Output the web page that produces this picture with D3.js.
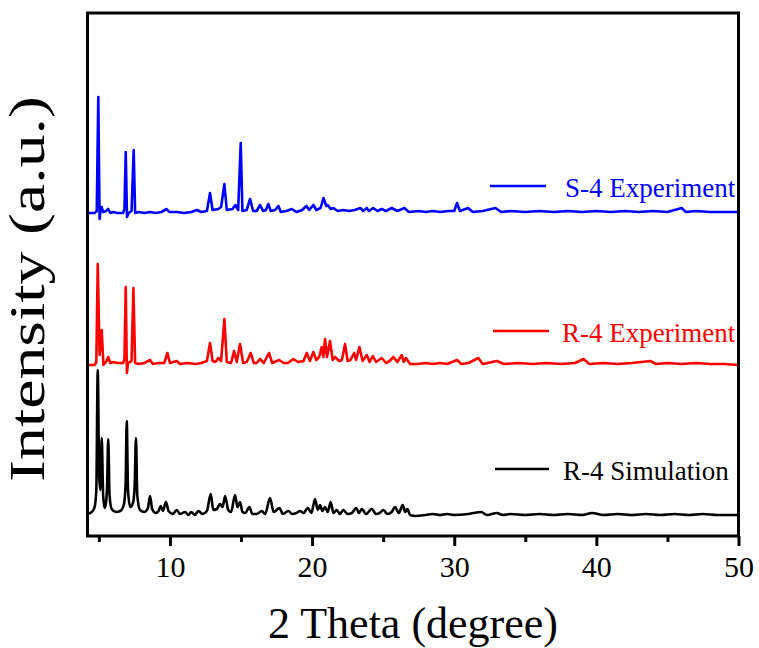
<!DOCTYPE html>
<html>
<head>
<meta charset="utf-8">
<script src="https://cdn.jsdelivr.net/npm/d3@7"></script>
<style>
  html, body { margin: 0; padding: 0; background: #fff; }
  svg { display: block; }
  text { font-family: "Liberation Serif", "Times New Roman", serif; }
</style>
</head>
<body>
<svg id="chart" width="759" height="648"></svg>
<script>
// ---------------- DATA ----------------
const seriesNames = ["R-4 Simulation", "R-4 Experiment", "S-4 Experiment"];
const seriesColors = ["#000000", "#ff0000", "#0000ff"];
const seriesOffsets = [0, 150, 302];   // vertical stacking offset (a.u.)

const majorTicks = [10, 20, 30, 40, 50];
const minorTicks = [5, 15, 25, 35, 45];
const xDomain = [4.2, 50];

// R-4 Simulation (black)
const simTheta = [4.2,4.5,4.7,4.82,4.92,5.02,5.1,5.2,5.3,5.4,5.5,5.58,5.66,5.75,5.9,6.2,6.5,6.75,6.88,6.96,7.05,7.2,7.4,7.52,7.61,7.7,7.9,8.2,8.45,8.6,8.75,9.0,9.2,9.35,9.5,9.72,9.9,10.2,10.48,10.7,11.06,11.3,11.5,11.75,12.0,12.3,12.6,12.87,13.05,13.3,13.52,13.7,13.88,14.1,14.3,14.58,14.75,14.93,15.1,15.3,15.59,15.8,16.1,16.46,16.7,17.04,17.3,17.7,17.95,18.33,18.6,18.9,19.15,19.4,19.7,19.95,20.21,20.4,20.56,20.72,20.91,21.1,21.31,21.5,21.74,21.95,22.2,22.5,22.8,23.1,23.3,23.5,23.8,24.2,24.5,24.75,25.02,25.3,25.6,25.84,26.1,26.38,26.55,26.7,26.9,27.3,28.0,28.5,29.0,29.5,30.0,31.0,31.9,32.3,33.0,33.4,34.0,35.0,36.0,37.0,38.0,39.0,39.7,40.5,41.5,42.5,43.5,44.5,45.5,46.5,47.5,48.5,50.0];
const simInt   = [1,3,8,25,145,40,25,77,20,7,12,30,76,20,6,3,4,10,30,94,25,8,12,30,77,20,5,3,7,19,6,2,4,9,4,13,4,1,5,1,3,0,3,0,4,1,4,21,5,6,11,8,19,5,3,20,8,13,3,2,8,1,1,4,1,17,3,7,1,4,1,2,4,2,7,2,16,5,10,4,8,3,13,2,5,1,5,1,2,7,2,6,1,6,1,2,5,1,3,8,2,10,3,6,0,-1,0,1,0,1,0,1,3,0,2,0,1,0,1,0,1,0,2,0,1,0,1,0,1,0,1,0,0];

// R-4 Experiment (red)
const r4Theta = [4.2,4.7,4.82,4.92,5.05,5.2,5.32,5.5,5.66,5.8,6.0,6.3,6.7,6.8,6.89,6.97,7.05,7.3,7.43,7.55,7.8,8.2,8.6,8.8,9.2,9.6,9.82,10.0,10.48,10.7,11.2,11.8,12.2,12.6,12.82,13.0,13.2,13.4,13.6,13.83,14.0,14.3,14.51,14.7,14.93,15.15,15.4,15.68,15.9,16.1,16.34,16.6,16.97,17.2,17.68,18.0,18.3,18.68,19.0,19.4,19.62,19.85,20.09,20.3,20.5,20.68,20.8,20.91,21.05,21.26,21.45,21.62,21.9,22.1,22.32,22.5,22.7,22.96,23.1,23.33,23.55,23.85,24.05,24.27,24.5,24.9,25.2,25.45,25.72,26.0,26.31,26.45,26.6,26.9,27.4,28.0,28.5,29.0,29.5,30.2,30.5,31.0,31.7,32.0,33.0,33.5,34.5,35.5,36.5,37.5,38.5,39.1,39.5,40.5,41.5,42.5,43.8,44.2,45.0,46.0,47.0,48.0,49.0,50.0];
const r4Int   = [0,0,3,101,10,35,0,3,8,2,3,2,2,6,78,-8,2,4,77,2,1,2,5,1,2,2,12,2,4,1,2,1,2,4,22,4,3,7,4,46,3,2,14,3,21,2,3,12,2,2,6,2,12,2,5,2,2,6,3,4,12,4,13,5,8,18,8,26,8,24,5,8,4,5,21,4,5,12,5,18,4,10,3,9,3,7,2,4,8,3,10,3,7,1,1,2,1,2,1,5,1,2,7,1,4,1,2,1,2,1,2,6,1,2,1,2,4,1,2,1,2,1,1,0];

// S-4 Experiment (blue)
const s4Theta = [4.2,4.7,4.85,4.96,5.05,5.12,5.2,5.3,5.5,5.66,5.8,6.0,6.3,6.7,6.8,6.89,6.98,7.1,7.3,7.45,7.55,7.8,8.2,8.6,9.0,9.4,9.77,9.95,10.5,11.0,11.5,11.9,12.2,12.6,12.82,13.0,13.4,13.6,13.83,14.0,14.4,14.6,14.8,14.98,15.1,15.4,15.64,15.85,16.1,16.34,16.55,16.75,16.92,17.1,17.4,17.63,17.8,18.2,18.57,18.9,19.3,19.6,19.8,20.09,20.3,20.6,20.8,21.0,21.1,21.3,21.5,21.8,22.2,22.6,23.0,23.4,23.6,23.85,24.0,24.3,24.6,24.9,25.2,25.6,26.0,26.5,26.8,27.5,28.0,28.5,29.0,29.6,30.0,30.2,30.4,30.98,31.3,32.0,32.9,33.3,34.0,35.0,36.0,37.0,38.0,39.0,40.0,41.0,42.0,43.0,44.0,45.0,46.0,46.3,47.0,48.0,49.0,50.0];
const s4Int   = [0,0,2,116,-6,3,6,1,2,4,0,1,0,0,4,61,-4,0,2,63,0,1,0,1,0,1,4,1,1,0,1,3,1,2,20,3,4,6,29,3,4,8,3,70,2,3,14,2,2,8,2,3,9,2,3,7,1,2,4,1,3,7,3,8,3,5,15,7,8,4,5,2,3,2,3,5,2,5,2,5,2,4,2,5,2,5,1,2,1,2,1,2,2,10,2,5,1,2,5,1,2,1,2,1,2,1,2,1,2,1,2,1,5,1,2,1,1,1];

const thetaArrays = [simTheta, r4Theta, s4Theta];
const intArrays = [simInt, r4Int, s4Int];

// ---------------- LAYOUT ----------------
const svg = d3.select("#chart");
const margin = { left: 87.5, right: 759 - 738.5, top: 13, bottom: 648 - 536 };
const W = 759, H = 648;
const x = d3.scaleLinear().domain(xDomain).range([margin.left, W - margin.right]);
const y = d3.scaleLinear().domain([-21, 502]).range([536, 13]);

const clipId = "plotclip";
svg.append("defs").append("clipPath").attr("id", clipId)
  .append("rect")
  .attr("x", margin.left).attr("y", margin.top)
  .attr("width", W - margin.right - margin.left)
  .attr("height", 536 - margin.top);

const line = d3.line().curve(d3.curveLinear);
const lineSmooth = d3.line().curve(d3.curveMonotoneX);

const g = svg.append("g").attr("clip-path", `url(#${clipId})`);
seriesNames.forEach((name, i) => {
  const pts = thetaArrays[i].map((t, k) => [x(t), y(intArrays[i][k] + seriesOffsets[i])]);
  g.append("path")
    .attr("d", (i === 0 ? lineSmooth : line)(pts))
    .attr("fill", "none")
    .attr("stroke", seriesColors[i])
    .attr("stroke-width", 2.6)
    .attr("stroke-linejoin", "round");
});

// Frame
svg.append("rect")
  .attr("x", margin.left).attr("y", margin.top)
  .attr("width", W - margin.right - margin.left)
  .attr("height", 536 - margin.top)
  .attr("fill", "none").attr("stroke", "#000").attr("stroke-width", 3);

// X axis (major + minor ticks)
const xAxisMajor = d3.axisBottom(x).tickValues(majorTicks).tickSize(10).tickSizeOuter(0).tickPadding(10)
  .tickFormat(d3.format("d"));
const xAxisMinor = d3.axisBottom(x).tickValues(minorTicks).tickSize(6).tickSizeOuter(0).tickFormat("");

const gMinor = svg.append("g").attr("transform", "translate(0,536)").call(xAxisMinor);
const gMajor = svg.append("g").attr("transform", "translate(0,536)").call(xAxisMajor);
[gMinor, gMajor].forEach(a => {
  a.select(".domain").remove();
  a.selectAll(".tick line").attr("stroke", "#000").attr("stroke-width", 3);
});
gMajor.selectAll(".tick text")
  .attr("fill", "#000")
  .style("font-family", '"Liberation Serif", "Times New Roman", serif')
  .style("font-size", "30px")
  .attr("dy", "0.71em");

// Axis titles
svg.append("text")
  .attr("x", (margin.left + W - margin.right) / 2)
  .attr("y", 638)
  .attr("text-anchor", "middle")
  .style("font-size", "44px")
  .text("2 Theta (degree)");

svg.append("text")
  .attr("transform", "translate(44,289) rotate(-90)")
  .attr("text-anchor", "middle")
  .attr("textLength", 386)
  .attr("lengthAdjust", "spacingAndGlyphs")
  .style("font-size", "50px")
  .text("Intensity (a.u.)");

// Legend entries (placed next to each trace)
const legendY = [469, 331, 186];
const legendLineX = [[495, 549], [493, 549], [490, 546]];
const legendTextX = [563, 562, 565];
seriesNames.forEach((name, i) => {
  svg.append("line")
    .attr("x1", legendLineX[i][0]).attr("x2", legendLineX[i][1])
    .attr("y1", legendY[i]).attr("y2", legendY[i])
    .attr("stroke", seriesColors[i]).attr("stroke-width", 2.5);
  svg.append("text")
    .attr("x", legendTextX[i]).attr("y", legendY[i] + 11)
    .attr("fill", seriesColors[i])
    .style("font-size", "27px")
    .text(name);
});
</script>
</body>
</html>
